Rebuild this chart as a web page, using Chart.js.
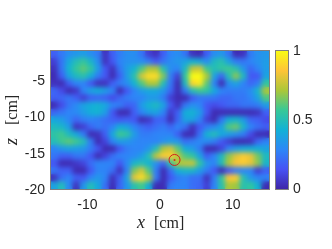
<!DOCTYPE html>
<html>
<head>
<meta charset="utf-8">
<script src="https://cdn.jsdelivr.net/npm/chart.js@4"></script>
<style>
    html, body { margin: 0; padding: 0; background: #fff; overflow: hidden; }
    canvas { position: absolute; left: 0; top: 0; }
</style>
</head>
<body>
<canvas id="heat" width="332" height="249"></canvas>
<canvas id="bar" width="332" height="249"></canvas>
<script>
// cell centres in cm
const xCenters = [-14.5, -13.5, -12.5, -11.5, -10.5, -9.5, -8.5, -7.5, -6.5, -5.5, -4.5, -3.5, -2.5, -1.5, -0.5,
    0.5, 1.5, 2.5, 3.5, 4.5, 5.5, 6.5, 7.5, 8.5, 9.5, 10.5, 11.5, 12.5, 13.5, 14.5];
const zCenters = [-1.5, -2.5, -3.5, -4.5, -5.5, -6.5, -7.5, -8.5, -9.5, -10.5, -11.5, -12.5, -13.5, -14.5, -15.5,
    -16.5, -17.5, -18.5, -19.5];

// values, one row per z, one column per x
const cellValues = [
    [.18,.25,.31,.34,.36,.31,.26,.04,.18,.26,.31,.31,.24,.08,.04,.18,.28,.31,.24,.04,.02,.18,.31,.34,.24,.02,.04,.26,.32,.34],
    [.08,.24,.4,.5,.56,.46,.31,.04,.16,.28,.32,.32,.31,.26,.16,.24,.31,.34,.38,.44,.4,.31,.48,.52,.38,.26,.24,.28,.32,.36],
    [.04,.24,.44,.56,.62,.55,.36,.16,.04,.24,.36,.44,.6,.72,.72,.52,.31,.28,.48,.75,.78,.58,.5,.55,.58,.52,.34,.2,.28,.36],
    [.02,.18,.38,.48,.52,.42,.26,.16,.02,.18,.36,.52,.78,.92,.92,.66,.26,.08,.55,1,1,.72,.38,.2,.5,.68,.48,.16,.16,.38],
    [.04,.02,.18,.28,.28,.16,.04,.04,.18,.26,.31,.44,.6,.72,.72,.5,.24,.02,.48,.9,.95,.62,.28,.02,.31,.38,.28,.2,.26,.55],
    [.2,.12,.02,.06,.28,.38,.42,.36,.28,.02,.16,.28,.36,.4,.4,.34,.2,.02,.26,.5,.58,.55,.4,.28,.26,.26,.26,.31,.45,.72],
    [.18,.2,.24,.18,.08,.18,.2,.18,.12,.2,.26,.28,.28,.34,.34,.26,.08,.02,.02,.16,.24,.24,.24,.2,.2,.24,.24,.28,.38,.6],
    [.02,.12,.24,.3,.38,.42,.44,.4,.28,.26,.18,.2,.36,.44,.48,.38,.16,.04,.24,.32,.28,.16,.12,.16,.2,.2,.24,.24,.26,.36],
    [.2,.24,.28,.3,.36,.42,.44,.36,.16,.02,.02,.18,.28,.36,.38,.28,.06,.18,.42,.44,.36,.16,.02,.02,.02,.02,.02,.02,.04,.18],
    [.4,.36,.28,.2,.26,.28,.26,.22,.18,.16,.18,.16,.02,.06,.18,.18,.02,.2,.38,.38,.28,.08,.02,.24,.42,.45,.36,.2,.18,.12],
    [.48,.46,.36,.04,.08,.2,.26,.22,.28,.42,.38,.28,.22,.18,.22,.26,.2,.28,.22,.04,.16,.26,.3,.38,.6,.64,.46,.28,.22,.18],
    [.54,.58,.48,.4,.26,.02,.04,.18,.4,.58,.54,.36,.26,.26,.28,.28,.28,.18,.02,.02,.22,.44,.5,.4,.36,.32,.26,.12,.02,.02],
    [.5,.58,.62,.58,.5,.26,.02,.1,.28,.36,.34,.3,.28,.28,.28,.32,.36,.34,.22,.26,.3,.3,.26,.16,.08,.02,.02,.04,.2,.28],
    [.28,.34,.38,.36,.34,.26,.16,.02,.02,.16,.26,.28,.28,.34,.5,.72,.78,.62,.42,.36,.26,.02,.02,.1,.28,.36,.4,.42,.42,.38],
    [.24,.18,.18,.24,.24,.16,.02,.1,.22,.28,.28,.3,.36,.5,.75,.88,.88,.75,.6,.55,.38,.18,.28,.48,.68,.8,.88,.82,.65,.48],
    [.16,.02,.02,.06,.1,.22,.28,.28,.28,.16,.3,.46,.5,.44,.32,.2,.55,.72,.75,.76,.55,.34,.28,.5,.72,.85,.88,.82,.68,.46],
    [.24,.18,.18,.02,.02,.16,.28,.28,.22,.04,.28,.66,.78,.6,.26,.02,.22,.42,.46,.46,.36,.26,.16,.02,.16,.26,.28,.28,.08,.18],
    [.04,.22,.28,.18,.16,.28,.34,.28,.04,.18,.38,.82,.92,.72,.26,.02,.16,.26,.28,.22,.22,.04,.26,.55,.86,.88,.52,.34,.28,.28],
    [.38,.5,.3,.04,.34,.5,.4,.22,.02,.2,.34,.52,.58,.42,.02,.02,.26,.28,.28,.22,.2,.08,.28,.52,.72,.7,.52,.55,.44,.02]
];

const targetX = [2];
const targetZ = [-16];

const xTicks = [-10, 0, 10];
const zTicks = [-20, -15, -10, -5];
const barTicks = [0, 0.5, 1];

// parula, evenly spaced from 0 to 1
const parula = ['#3e26a8', '#4752f4', '#2d87f7', '#12b1d6', '#37c897', '#abc739', '#fec438', '#f9fb14'];

function hexToRgb(hex) {
    return [1, 3, 5].map(i => parseInt(hex.slice(i, i + 2), 16));
}

function colorFor(v) {
    const pos = Math.min(Math.max(v, 0), 1) * (parula.length - 1);
    const i = Math.min(Math.floor(pos), parula.length - 2);
    const a = hexToRgb(parula[i]);
    const b = hexToRgb(parula[i + 1]);
    const t = pos - i;
    return `rgb(${a.map((c, k) => Math.round(c + (b[k] - c) * t)).join(',')})`;
}

const points = [];
const pointColors = [];
zCenters.forEach((z, r) => {
    xCenters.forEach((x, c) => {
        points.push({ x, y: z });
        pointColors.push(colorFor(cellValues[r][c]));
    });
});

const tickColor = '#262626';
const tickFont = { family: 'Liberation Sans', size: 14 };

// the reference image is smooth, so soften the cells once they are painted
const smoothCells = {
    id: 'smoothCells',
    afterDatasetDraw(chart, args) {
        if (args.index !== 2) return;
        const { ctx, chartArea: a } = chart;
        ctx.save();
        ctx.beginPath();
        ctx.rect(a.left, a.top, a.width, a.height);
        ctx.clip();
        ctx.filter = 'blur(2.8px)';
        ctx.drawImage(ctx.canvas, a.left, a.top, a.width, a.height, a.left, a.top, a.width, a.height);
        ctx.restore();
    },
};

// axes box and the mixed-font axis labels
const boxAndLabels = {
    id: 'boxAndLabels',
    afterDraw(chart) {
        const { ctx, chartArea: a } = chart;
        ctx.save();
        ctx.strokeStyle = '#7f7f7f';
        ctx.lineWidth = 1;
        ctx.strokeRect(a.left - 0.5, a.top - 0.5, a.width + 1, a.height + 1);

        ctx.fillStyle = '#262626';
        ctx.textBaseline = 'alphabetic';
        ctx.font = 'italic 18px "Liberation Serif"';
        ctx.fillText('x', 137, 228);
        ctx.font = '16px "Liberation Serif"';
        ctx.fillText('[cm]', 154, 228);

        ctx.translate(17, 145);
        ctx.rotate(-Math.PI / 2);
        ctx.font = 'italic 18px "Liberation Serif"';
        ctx.fillText('z', 0, 0);
        ctx.font = '16px "Liberation Serif"';
        ctx.fillText('[cm]', 20, 0);
        ctx.restore();
    },
};

new Chart(document.getElementById('heat'), {
    type: 'scatter',
    data: {
        datasets: [
            {
                // centre dot of the marker
                data: targetX.map((x, i) => ({ x, y: targetZ[i] })),
                pointStyle: 'circle',
                pointRadius: 1,
                pointBorderWidth: 0,
                pointBackgroundColor: '#e0201c',
            },
            {
                data: targetX.map((x, i) => ({ x, y: targetZ[i] })),
                pointStyle: 'circle',
                pointRadius: 5.5,
                pointBorderWidth: 1,
                pointBorderColor: '#d0201c',
                pointBackgroundColor: 'transparent',
            },
            {
                data: points,
                pointStyle: 'rect',
                pointRadius: 5.6,
                pointBorderWidth: 0,
                pointBackgroundColor: pointColors,
            },
        ],
    },
    options: {
        responsive: false,
        animation: false,
        devicePixelRatio: 1,
        layout: { padding: { top: 51, right: 63, left: 0, bottom: 0 } },
        plugins: { legend: { display: false }, tooltip: { enabled: false } },
        scales: {
            x: {
                type: 'linear',
                min: -15,
                max: 15,
                afterBuildTicks: scale => { scale.ticks = xTicks.map(value => ({ value })); },
                afterFit: scale => { scale.height = 60; },
                grid: { display: false, drawTicks: false },
                border: { display: false },
                ticks: { color: tickColor, font: tickFont, padding: 8, maxRotation: 0 },
            },
            y: {
                type: 'linear',
                min: -20,
                max: -1,
                afterBuildTicks: scale => { scale.ticks = zTicks.map(value => ({ value })); },
                afterFit: scale => { scale.width = 51; },
                grid: { display: false, drawTicks: false },
                border: { display: false },
                ticks: { color: tickColor, font: tickFont, padding: 6, labelOffset: 1 },
            },
        },
    },
    plugins: [smoothCells, boxAndLabels],
});

new Chart(document.getElementById('bar'), {
    type: 'bar',
    data: {
        labels: [''],
        datasets: [{
            data: [[0, 1]],
            barPercentage: 1,
            categoryPercentage: 1,
            backgroundColor(context) {
                const a = context.chart.chartArea;
                if (!a) return parula[0];
                const gradient = context.chart.ctx.createLinearGradient(0, a.bottom, 0, a.top);
                parula.forEach((c, i) => gradient.addColorStop(i / (parula.length - 1), c));
                return gradient;
            },
        }],
    },
    options: {
        responsive: false,
        animation: false,
        devicePixelRatio: 1,
        layout: { padding: { top: 51, right: 14, left: 276, bottom: 0 } },
        plugins: { legend: { display: false }, tooltip: { enabled: false } },
        scales: {
            x: {
                afterFit: scale => { scale.height = 60; },
                grid: { display: false, drawTicks: false },
                border: { display: false },
                ticks: { display: false },
            },
            y: {
                position: 'right',
                min: 0,
                max: 1,
                afterBuildTicks: scale => { scale.ticks = barTicks.map(value => ({ value })); },
                afterFit: scale => { scale.width = 30; },
                grid: { display: false, drawTicks: false },
                border: { display: false },
                ticks: { color: tickColor, font: tickFont, padding: 5, callback: v => String(v) },
            },
        },
    },
    plugins: [{
        id: 'barBox',
        afterDraw(chart) {
            const { ctx, chartArea: a } = chart;
            ctx.save();
            ctx.strokeStyle = '#7f7f7f';
            ctx.strokeRect(a.left - 0.5, a.top - 0.5, a.width + 1, a.height + 1);
            ctx.restore();
        },
    }],
});
</script>
</body>
</html>
